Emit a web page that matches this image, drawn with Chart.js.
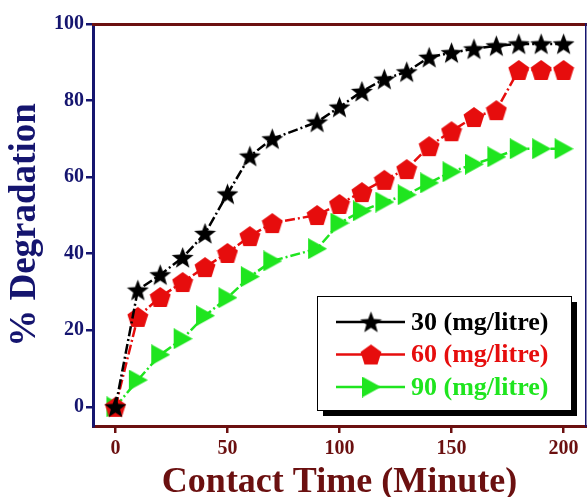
<!DOCTYPE html>
<html><head><meta charset="utf-8">
<script src="https://cdn.jsdelivr.net/npm/chart.js@4"></script>
<style>html,body{margin:0;padding:0;background:#fff}#wrap{width:587px;height:497px}</style>
</head><body><div id="wrap"><canvas id="c" width="587" height="497"></canvas></div>
<script>
// ---- data ----
const categories = [0,10,20,30,40,50,60,70,90,100,110,120,130,140,150,160,170,180,190,200];
const series30 = [0,30.5,34.5,39,45.3,55.6,65.5,70,74.4,78.3,82.4,85.6,87.5,91.3,92.5,93.5,94.3,94.8,94.8,94.8];
const series60 = [0,23.5,28.7,32.6,36.5,40.2,44.6,48,50.1,53,56.1,59.3,62.1,68.1,72,75.7,77.5,88,88,88];
const series90 = [0,7,13.6,17.8,23.8,28.5,34,38.1,41.3,48,51.2,53.5,55.4,58.5,61.4,63.4,65.3,67.4,67.4,67.4];
const seriesLabels = ['30 (mg/litre)','60 (mg/litre)','90 (mg/litre)'];
const xTicks = [0,50,100,150,200];
const yTicks = [0,20,40,60,80,100];

const NAVY = '#15156f', DRED = '#6b1010';
const C1 = '#000000', C2 = '#e60d0d', C3 = '#1fe51f';
const SERIF = '"Liberation Serif","Times New Roman",serif';

function mk(w,h,draw){const c=document.createElement('canvas');c.width=w;c.height=h;const g=c.getContext('2d');draw(g);return c;}
function starImg(size,color){return mk(size,size,g=>{const cx=size/2,cy=size/2+1,R=size/2,r=R*0.42;g.beginPath();for(let i=0;i<10;i++){const a=-Math.PI/2+i*Math.PI/5;const rr=i%2?r:R;g.lineTo(cx+rr*Math.cos(a),cy+rr*Math.sin(a));}g.closePath();g.fillStyle=color;g.fill();});}
function pentImg(size,color){return mk(size,size,g=>{const cx=size/2,cy=size/2+1,R=size/2;g.beginPath();for(let i=0;i<5;i++){const a=-Math.PI/2+i*2*Math.PI/5;g.lineTo(cx+R*Math.cos(a),cy+R*Math.sin(a));}g.closePath();g.fillStyle=color;g.fill();});}
function triImg(w,h,color){return mk(w,h,g=>{g.beginPath();g.moveTo(1,0);g.lineTo(w,h/2);g.lineTo(1,h);g.closePath();g.fillStyle=color;g.fill();});}
const mStar=starImg(23,C1), mPent=pentImg(22,C2), mTri=triImg(20,21,C3);

function pts(vals){return categories.map((x,i)=>({x:x,y:vals[i]}));}
const dash=[10,3,2,3];

const legendPlugin={id:'boxLegend',afterDraw(chart){
  const g=chart.ctx;const x=317,y=296,w=254,h=114;
  g.save();
  g.fillStyle='#000';g.fillRect(x+6,y+6,w,h);
  g.fillStyle='#fff';g.fillRect(x,y,w,h);
  g.strokeStyle='#000';g.lineWidth=1;g.strokeRect(x+0.5,y+0.5,w,h);
  const imgs=[mStar,mPent,mTri];
  chart.data.datasets.forEach((ds,i)=>{
    const yy=y+26+i*32.5;
    g.strokeStyle=ds.borderColor;g.lineWidth=2.5;g.setLineDash([]);
    g.beginPath();g.moveTo(336,yy);g.lineTo(405,yy);g.stroke();
    const im=imgs[i];g.drawImage(im,371-im.width/2,yy-im.height/2);
    g.fillStyle=ds.borderColor;g.font='bold 26px '+SERIF;g.textBaseline='middle';g.textAlign='left';
    g.fillText(ds.label,411,yy+1);
  });
  g.restore();
}};

new Chart(document.getElementById('c'),{
  type:'line',
  data:{datasets:[
    {label:seriesLabels[0],data:pts(series30),borderColor:C1,backgroundColor:C1,pointStyle:mStar,borderWidth:2.5,borderDash:dash,clip:false},
    {label:seriesLabels[1],data:pts(series60),borderColor:C2,backgroundColor:C2,pointStyle:mPent,borderWidth:2.5,borderDash:dash,clip:false},
    {label:seriesLabels[2],data:pts(series90),borderColor:C3,backgroundColor:C3,pointStyle:mTri,borderWidth:2.5,borderDash:dash,clip:false}
  ]},
  options:{
    responsive:false,animation:false,
    layout:{autoPadding:false,padding:{left:0,right:1,top:24,bottom:0}},
    plugins:{legend:{display:false},tooltip:{enabled:false}},
    elements:{line:{tension:0},point:{radius:10}},
    scales:{
      x:{type:'linear',position:'bottom',min:-10,max:210,
        afterBuildTicks:s=>{s.ticks=xTicks.map(v=>({value:v}));},
        afterFit:s=>{s.height=71;s.paddingLeft=0;s.paddingRight=0;},
        grid:{drawOnChartArea:false,color:DRED,tickLength:7,lineWidth:2.5},
        border:{color:DRED,width:3},
        ticks:{color:DRED,font:{family:SERIF,size:20,weight:'bold'},padding:4,maxRotation:0},
        title:{display:true,text:'Contact Time (Minute)',color:DRED,font:{family:SERIF,size:36,weight:'bold',lineHeight:1},padding:{top:0,bottom:-4}}
      },
      y:{type:'linear',position:'left',min:-5,max:100,
        afterBuildTicks:s=>{s.ticks=yTicks.map(v=>({value:v}));},
        afterFit:s=>{s.width=93;s.paddingTop=0;s.paddingBottom=0;},
        grid:{drawOnChartArea:false,color:NAVY,tickLength:7,lineWidth:2.5},
        border:{color:NAVY,width:3},
        ticks:{color:NAVY,font:{family:SERIF,size:20,weight:'bold'},padding:2},
        title:{display:true,text:'% Degradation',color:NAVY,font:{family:SERIF,size:37,weight:'bold',lineHeight:1},padding:{top:7,bottom:0}}
      },
      x2:{type:'linear',position:'top',min:-10,max:210,afterFit:s=>{s.height=0;s.paddingLeft=0;s.paddingRight=0;},
        ticks:{display:false},grid:{display:false},border:{color:DRED,width:3}},
      y2:{type:'linear',position:'right',min:-5,max:100,afterFit:s=>{s.width=0;s.paddingTop=0;s.paddingBottom=0;},
        ticks:{display:false},grid:{display:false},border:{color:NAVY,width:1.5}}
    }
  },
  plugins:[legendPlugin]
});
</script></body></html>
